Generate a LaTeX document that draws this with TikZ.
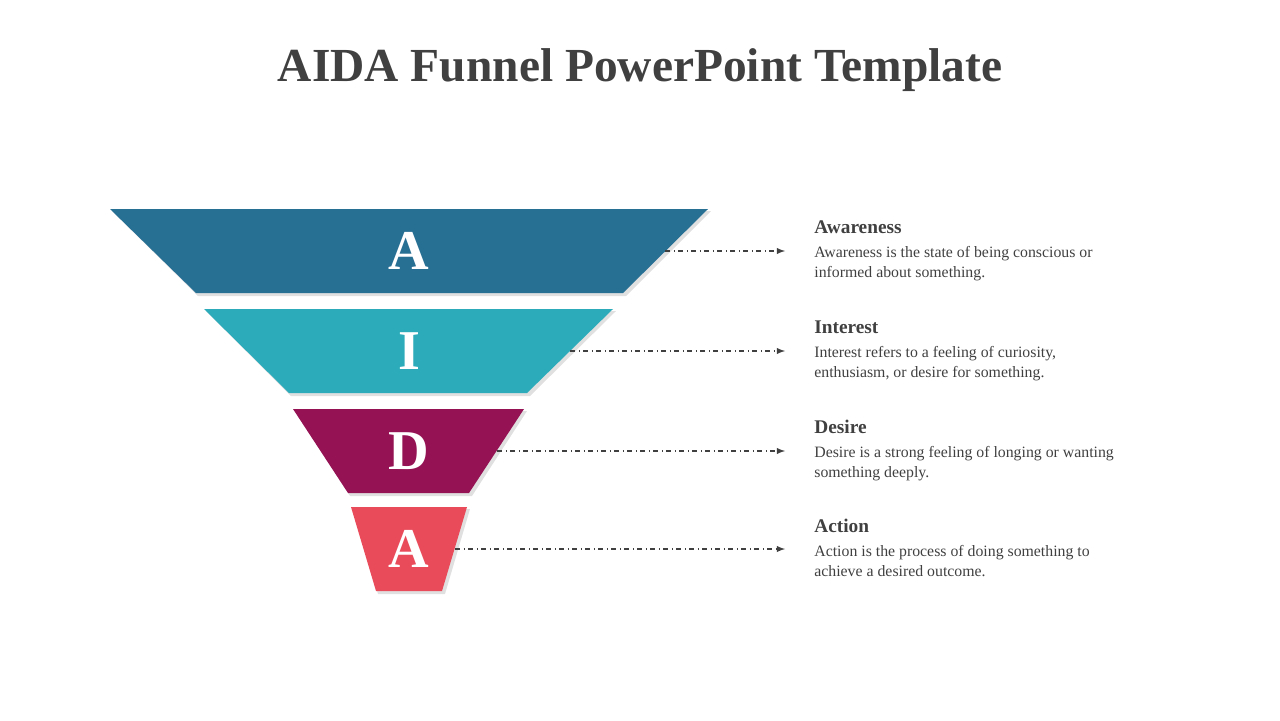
\documentclass[tikz,border=0pt]{standalone}
\usepackage{fontspec}
\setmainfont{Liberation Serif}
\definecolor{awareblue}{HTML}{286F94}
\definecolor{interestteal}{HTML}{2CACBB}
\definecolor{desireplum}{HTML}{951254}
\definecolor{actionred}{HTML}{E94B5A}
\definecolor{inkgray}{HTML}{404040}
\begin{document}
\begin{tikzpicture}[x=0.02cm,y=-0.02cm,
    stage/.style={text=white,font=\bfseries\fontsize{32}{32}\selectfont},
    pointer/.style={inkgray,dash dot,line width=0.6pt,-latex},
    heading/.style={anchor=west,text=inkgray,font=\bfseries\fontsize{11}{13}\selectfont,inner sep=0pt},
    blurb/.style={anchor=north west,text=inkgray,font=\fontsize{9}{11.3}\selectfont,inner sep=0pt,align=left},
    shade/.style={fill=black!12}]
  \useasboundingbox (0,0) rectangle (1280,720);
  \node[text=inkgray,font=\bfseries\fontsize{27}{27}\selectfont] (title) at (640,70) {AIDA Funnel PowerPoint Template};
  % funnel layers
  \fill[shade] (112,211)--(711,211)--(626,296)--(198,296)--cycle;
  \fill[awareblue] (110,209)--(708,209)--(623,293)--(196,293)--cycle;
  \fill[shade] (206,311)--(616,311)--(530,396)--(291,396)--cycle;
  \fill[interestteal] (204,309)--(613,309)--(527,393)--(289,393)--cycle;
  \fill[shade] (295,411)--(527,411)--(472,496)--(350,496)--cycle;
  \fill[desireplum] (293,409)--(524,409)--(469,493)--(348,493)--cycle;
  \fill[shade] (353,509)--(470,509)--(445,594)--(378,594)--cycle;
  \fill[actionred] (351,507)--(467,507)--(442,591)--(376,591)--cycle;
  \node[stage] (a1) at (409,251) {A};
  \node[stage] (i1) at (409,351) {I};
  \node[stage] (d1) at (409,451) {D};
  \node[stage] (a2) at (409,549) {A};
  % arrow ends
  \coordinate (s1) at (665,251);
  \coordinate (s2) at (570,351);
  \coordinate (s3) at (497,451);
  \coordinate (s4) at (455,549);
  \coordinate (e1) at (785,251);
  \coordinate (e2) at (785,351);
  \coordinate (e3) at (785,451);
  \coordinate (e4) at (785,549);
  \draw[pointer] (s1)--(e1);
  \draw[pointer] (s2)--(e2);
  \draw[pointer] (s3)--(e3);
  \draw[pointer] (s4)--(e4);
  % texts
  \node[heading] (h1) at (814,227) {Awareness};
  \node[blurb] (b1) at (814,246) {Awareness is the state of being conscious or\\informed about something.};
  \node[heading] (h2) at (814,327) {Interest};
  \node[blurb] (b2) at (814,346) {Interest refers to a feeling of curiosity,\\enthusiasm, or desire for something.};
  \node[heading] (h3) at (814,427) {Desire};
  \node[blurb] (b3) at (814,446) {Desire is a strong feeling of longing or wanting\\something deeply.};
  \node[heading] (h4) at (814,526) {Action};
  \node[blurb] (b4) at (814,545) {Action is the process of doing something to\\achieve a desired outcome.};
\end{tikzpicture}
\end{document}
